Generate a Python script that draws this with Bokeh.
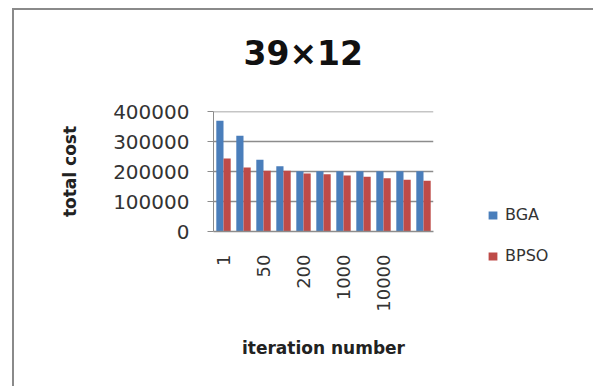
import numpy as np
from bokeh.plotting import figure
from bokeh.models import (ColumnDataSource, FixedTicker, Legend, LegendItem,
                          Range1d, NumeralTickFormatter, Title)
from bokeh.transform import dodge
from bokeh.embed import file_html
from bokeh.resources import INLINE

# Total cost per iteration-count setting (39x12 instance)
iterations = list(range(11))
bga = [370000, 320000, 240000, 218000, 201000, 201000, 201000, 201000, 201000, 201000, 201000]
bpso = [244000, 214000, 203000, 203000, 194000, 191000, 187000, 183000, 178000, 173000, 170000]

# Axis labelling
tick_positions = [0, 2, 4, 6, 8]
tick_labels = ["1", "50", "200", "1000", "10000"]
y_ticks = [0, 100000, 200000, 300000, 400000]

src = ColumnDataSource(dict(x=iterations, bga=bga, bpso=bpso))

p = figure(frame_width=220, frame_height=120, output_backend="svg", toolbar_location=None,
           x_range=Range1d(-0.5, 10.5), y_range=Range1d(0, 401000),
           min_border_left=199, min_border_right=160,
           min_border_top=101, min_border_bottom=157)
p.margin = (8, 0, 0, 12)
p.styles = {"border-left": "2px solid #8a8a8a", "border-top": "2px solid #8a8a8a",
            "border-right": "2px solid #8a8a8a", "box-sizing": "border-box"}

blue = "#4a7ebb"
red = "#be4b48"
r1 = p.vbar(x=dodge("x", -0.18, range=p.x_range), top="bga", width=0.36,
            source=src, fill_color=blue, line_color=None)
r2 = p.vbar(x=dodge("x", 0.18, range=p.x_range), top="bpso", width=0.36,
            source=src, fill_color=red, line_color=None)

p.outline_line_color = None
p.xgrid.grid_line_color = None
p.ygrid.grid_line_color = "#8c8c8c"
p.ygrid.grid_line_width = 1.5
p.ygrid.ticker = FixedTicker(ticks=y_ticks)

# y axis
p.yaxis.ticker = FixedTicker(ticks=y_ticks)
p.yaxis.formatter = NumeralTickFormatter(format="0")
p.yaxis.axis_line_color = "#8c8c8c"
p.yaxis.major_tick_line_color = "#8c8c8c"
p.yaxis.major_tick_out = 6
p.yaxis.major_tick_in = 0
p.yaxis.minor_tick_line_color = None
p.yaxis.major_label_standoff = 18
p.yaxis.major_label_text_font = "DejaVu Sans"
p.yaxis.major_label_text_font_size = "20px"
p.yaxis.major_label_text_color = "#333333"
p.yaxis.axis_label = "total cost"
p.yaxis.axis_label_text_font = "DejaVu Sans"
p.yaxis.axis_label_text_font_size = "17px"
p.yaxis.axis_label_text_font_style = "bold"
p.yaxis.axis_label_text_color = "#222222"
p.yaxis.axis_label_standoff = 30

# x axis
p.xaxis.ticker = FixedTicker(ticks=tick_positions)
p.xaxis.major_label_overrides = {t: s for t, s in zip(tick_positions, tick_labels)}
p.xaxis.major_label_orientation = np.pi / 2
p.xaxis.axis_line_color = "#8c8c8c"
p.xaxis.axis_line_width = 1.5
p.xaxis.major_tick_line_color = None
p.xaxis.minor_tick_line_color = None
p.xaxis.major_label_standoff = 17
p.xaxis.major_label_text_font = "DejaVu Sans"
p.xaxis.major_label_text_font_size = "18px"
p.xaxis.major_label_text_color = "#333333"
p.xaxis.axis_label = "iteration number"
p.xaxis.axis_label_text_font = "DejaVu Sans"
p.xaxis.axis_label_text_font_size = "17px"
p.xaxis.axis_label_text_font_style = "bold"
p.xaxis.axis_label_text_color = "#222222"
p.xaxis.axis_label_standoff = 23

# Blank gap between the plot frame and the chart title
p.add_layout(Title(text=" ", text_font_size="1px", standoff=36), "above")

# Title, centred over the whole chart box rather than the plot frame
p.title.text = "39×12"
p.title.align = "left"
p.title.offset = 30
p.title.vertical_align = "bottom"
p.title.standoff = 0
p.title.text_font = "DejaVu Sans"
p.title.text_font_size = "33px"
p.title.text_font_style = "bold"
p.title.text_color = "#111111"

legend = Legend(items=[LegendItem(label="BGA", renderers=[r1]),
                       LegendItem(label="BPSO", renderers=[r2])],
                location=(54, -34), padding=0, margin=0, spacing=22,
                glyph_width=11, glyph_height=10, label_standoff=7,
                border_line_color=None, background_fill_alpha=0,
                label_text_font="DejaVu Sans", label_text_font_size="16px",
                label_text_color="#333333")
p.add_layout(legend, "right")

open("out.html", "w").write(file_html(p, INLINE))
